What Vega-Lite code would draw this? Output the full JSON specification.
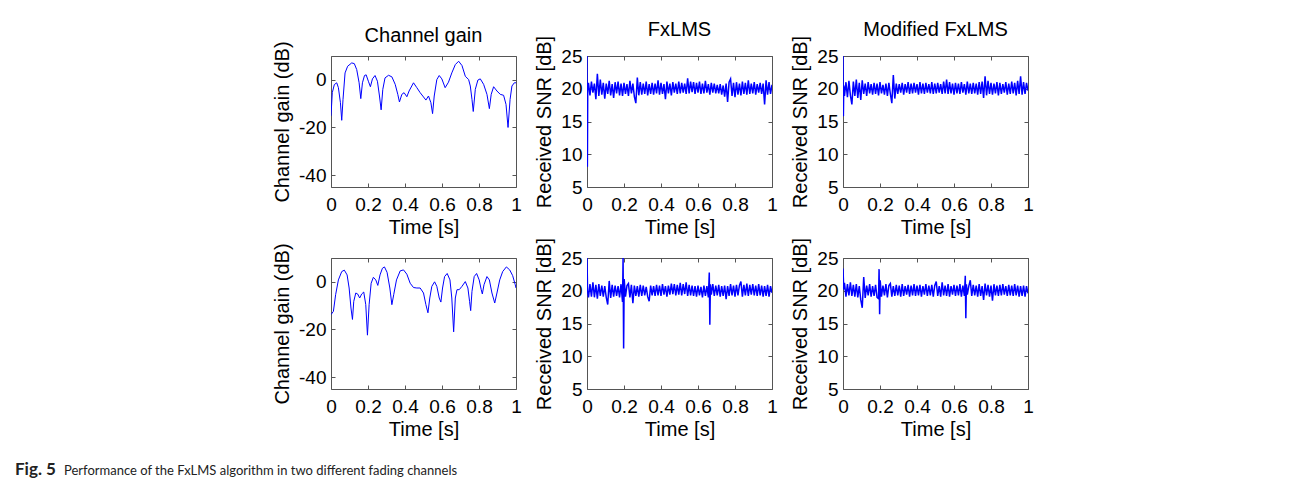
{
"$schema": "https://vega.github.io/schema/vega-lite/v6.json",
"padding": {"left": 15, "top": 19, "right": 5, "bottom": 2},
"background": "white",
"bounds": "flush",
"title": {"text": "Fig. 5", "orient": "bottom", "anchor": "start", "frame": "group", "dx": -316, "dy": -3, "offset": 0, "baseline": "alphabetic", "font": "Lato", "fontSize": 17, "fontWeight": "bold", "color": "#222"},
"datasets": {
"g1": [{"t":0,"v":-15.1},{"t":0.007,"v":-5.4},{"t":0.018,"v":-2},{"t":0.031,"v":-1.25},{"t":0.04,"v":-3.3},{"t":0.051,"v":-9.6},{"t":0.058,"v":-17},{"t":0.065,"v":-8.2},{"t":0.076,"v":2.9},{"t":0.09,"v":5.7},{"t":0.112,"v":7.1},{"t":0.126,"v":6.8},{"t":0.139,"v":4.3},{"t":0.152,"v":-1.25},{"t":0.161,"v":-7.9},{"t":0.17,"v":-1.25},{"t":0.181,"v":1.8},{"t":0.19,"v":2.1},{"t":0.202,"v":-0.6},{"t":0.213,"v":-2.9},{"t":0.224,"v":0.4},{"t":0.238,"v":1.8},{"t":0.251,"v":-0.6},{"t":0.262,"v":-6.8},{"t":0.271,"v":-12.6},{"t":0.28,"v":-4},{"t":0.292,"v":0.8},{"t":0.311,"v":1.9},{"t":0.329,"v":1.25},{"t":0.347,"v":-1.9},{"t":0.361,"v":-6.1},{"t":0.37,"v":-9.3},{"t":0.383,"v":-6.1},{"t":0.395,"v":-5.4},{"t":0.41,"v":-7.1},{"t":0.422,"v":-4.7},{"t":0.446,"v":-1.25},{"t":0.464,"v":-3.3},{"t":0.482,"v":-5.4},{"t":0.5,"v":-7.2},{"t":0.513,"v":-8.5},{"t":0.527,"v":-6.8},{"t":0.54,"v":-9.6},{"t":0.549,"v":-14.2},{"t":0.558,"v":-6.8},{"t":0.572,"v":0.1},{"t":0.585,"v":1.8},{"t":0.599,"v":0.4},{"t":0.617,"v":-3.3},{"t":0.635,"v":-1},{"t":0.653,"v":2.9},{"t":0.672,"v":6.4},{"t":0.69,"v":7.8},{"t":0.708,"v":6},{"t":0.726,"v":1.5},{"t":0.744,"v":0.1},{"t":0.753,"v":-2.6},{"t":0.762,"v":-8.2},{"t":0.769,"v":-13.3},{"t":0.78,"v":-4},{"t":0.794,"v":-0.1},{"t":0.807,"v":0.4},{"t":0.825,"v":-1.9},{"t":0.843,"v":-6.1},{"t":0.856,"v":-12.1},{"t":0.866,"v":-6.1},{"t":0.879,"v":-2.9},{"t":0.897,"v":-4.7},{"t":0.915,"v":-6.1},{"t":0.933,"v":-6.5},{"t":0.946,"v":-10.3},{"t":0.957,"v":-20},{"t":0.968,"v":-8.2},{"t":0.978,"v":-2.6},{"t":0.991,"v":-1.25},{"t":1,"v":-1.25}],
"g2": [{"t":0,"v":-13.75},{"t":0.013,"v":-12.4},{"t":0.025,"v":-5.4},{"t":0.04,"v":0.8},{"t":0.058,"v":4.3},{"t":0.072,"v":4.9},{"t":0.087,"v":2.9},{"t":0.098,"v":-2.6},{"t":0.108,"v":-11},{"t":0.116,"v":-15.8},{"t":0.123,"v":-8.2},{"t":0.134,"v":-4.7},{"t":0.144,"v":-5.1},{"t":0.155,"v":-6.8},{"t":0.166,"v":-5.1},{"t":0.177,"v":-4.3},{"t":0.188,"v":-9.6},{"t":0.197,"v":-22.4},{"t":0.206,"v":-9.6},{"t":0.217,"v":-0.6},{"t":0.229,"v":1.9},{"t":0.242,"v":0.8},{"t":0.253,"v":-1.5},{"t":0.265,"v":2.9},{"t":0.278,"v":5.7},{"t":0.289,"v":6.25},{"t":0.303,"v":4},{"t":0.318,"v":-2.6},{"t":0.329,"v":-9.6},{"t":0.339,"v":-5.4},{"t":0.354,"v":0.8},{"t":0.374,"v":4.6},{"t":0.392,"v":5},{"t":0.41,"v":3.2},{"t":0.428,"v":-0.6},{"t":0.446,"v":-2.4},{"t":0.464,"v":-2.6},{"t":0.482,"v":-2.6},{"t":0.5,"v":-4.7},{"t":0.513,"v":-9.6},{"t":0.524,"v":-13},{"t":0.534,"v":-6.8},{"t":0.545,"v":-1.9},{"t":0.56,"v":0},{"t":0.572,"v":-1.9},{"t":0.585,"v":-6.8},{"t":0.594,"v":-8.5},{"t":0.603,"v":-2.6},{"t":0.614,"v":2.2},{"t":0.628,"v":3.5},{"t":0.643,"v":0.8},{"t":0.653,"v":-6.8},{"t":0.663,"v":-21},{"t":0.672,"v":-6.8},{"t":0.681,"v":-3.3},{"t":0.693,"v":-3.3},{"t":0.708,"v":-1.9},{"t":0.726,"v":0.1},{"t":0.74,"v":-2.6},{"t":0.749,"v":-8.2},{"t":0.755,"v":-12.1},{"t":0.762,"v":-4},{"t":0.774,"v":2.2},{"t":0.787,"v":3.5},{"t":0.801,"v":0.8},{"t":0.812,"v":-3.3},{"t":0.818,"v":-5.1},{"t":0.827,"v":-1.25},{"t":0.843,"v":2.2},{"t":0.856,"v":0.8},{"t":0.87,"v":-4.7},{"t":0.885,"v":-8.9},{"t":0.897,"v":-4.7},{"t":0.912,"v":0.8},{"t":0.928,"v":4.3},{"t":0.948,"v":6.25},{"t":0.966,"v":5},{"t":0.982,"v":2.6},{"t":0.996,"v":-1.25},{"t":1,"v":-2.6}],
"f1": [{"t":0,"v":25},{"t":0.002,"v":8.1},{"t":0.004,"v":20.3},{"t":0.008,"v":20.9},{"t":0.016,"v":19.0},{"t":0.024,"v":21.1},{"t":0.032,"v":19.4},{"t":0.04,"v":20.8},{"t":0.048,"v":18.4},{"t":0.056,"v":22.3},{"t":0.064,"v":18.9},{"t":0.072,"v":21.4},{"t":0.08,"v":19.1},{"t":0.088,"v":20.9},{"t":0.096,"v":18.5},{"t":0.104,"v":20.8},{"t":0.112,"v":19.2},{"t":0.12,"v":21.2},{"t":0.128,"v":19.0},{"t":0.136,"v":20.7},{"t":0.144,"v":18.6},{"t":0.152,"v":21.0},{"t":0.16,"v":19.3},{"t":0.168,"v":21.1},{"t":0.176,"v":19.0},{"t":0.184,"v":20.8},{"t":0.192,"v":18.9},{"t":0.2,"v":20.9},{"t":0.208,"v":19.2},{"t":0.216,"v":20.7},{"t":0.224,"v":18.9},{"t":0.232,"v":21.2},{"t":0.24,"v":19.3},{"t":0.248,"v":20.8},{"t":0.256,"v":18.8},{"t":0.264,"v":17.8},{"t":0.272,"v":21.7},{"t":0.28,"v":19.0},{"t":0.288,"v":21.0},{"t":0.296,"v":19.1},{"t":0.304,"v":20.8},{"t":0.312,"v":19.2},{"t":0.32,"v":21.1},{"t":0.328,"v":19.0},{"t":0.336,"v":20.7},{"t":0.344,"v":19.2},{"t":0.352,"v":20.9},{"t":0.36,"v":19.1},{"t":0.368,"v":20.8},{"t":0.376,"v":19.3},{"t":0.384,"v":21.3},{"t":0.392,"v":19.1},{"t":0.4,"v":20.9},{"t":0.408,"v":19.2},{"t":0.416,"v":20.7},{"t":0.424,"v":18.4},{"t":0.432,"v":21.1},{"t":0.44,"v":19.3},{"t":0.448,"v":20.8},{"t":0.456,"v":19.0},{"t":0.464,"v":21.0},{"t":0.472,"v":19.4},{"t":0.48,"v":20.8},{"t":0.488,"v":19.2},{"t":0.496,"v":21.1},{"t":0.504,"v":19.3},{"t":0.512,"v":20.9},{"t":0.52,"v":19.4},{"t":0.528,"v":20.8},{"t":0.536,"v":19.2},{"t":0.544,"v":21.6},{"t":0.552,"v":19.3},{"t":0.56,"v":21.1},{"t":0.568,"v":19.5},{"t":0.576,"v":21.0},{"t":0.584,"v":19.2},{"t":0.592,"v":20.9},{"t":0.6,"v":19.4},{"t":0.608,"v":21.1},{"t":0.616,"v":19.2},{"t":0.624,"v":20.8},{"t":0.632,"v":19.3},{"t":0.64,"v":21.2},{"t":0.648,"v":19.4},{"t":0.656,"v":20.7},{"t":0.664,"v":19.1},{"t":0.672,"v":20.9},{"t":0.68,"v":19.4},{"t":0.688,"v":20.8},{"t":0.696,"v":19.3},{"t":0.704,"v":20.6},{"t":0.712,"v":19.3},{"t":0.72,"v":20.7},{"t":0.728,"v":19.1},{"t":0.736,"v":20.5},{"t":0.744,"v":18.8},{"t":0.752,"v":20.8},{"t":0.76,"v":18.0},{"t":0.768,"v":21.0},{"t":0.776,"v":21.5},{"t":0.784,"v":18.9},{"t":0.792,"v":20.9},{"t":0.8,"v":18.7},{"t":0.808,"v":21.0},{"t":0.816,"v":19.1},{"t":0.824,"v":20.8},{"t":0.832,"v":19.0},{"t":0.84,"v":21.1},{"t":0.848,"v":19.2},{"t":0.856,"v":20.9},{"t":0.864,"v":19.1},{"t":0.872,"v":21.3},{"t":0.88,"v":19.2},{"t":0.888,"v":20.8},{"t":0.896,"v":19.3},{"t":0.904,"v":21.0},{"t":0.912,"v":19.1},{"t":0.92,"v":20.7},{"t":0.928,"v":19.4},{"t":0.936,"v":20.9},{"t":0.944,"v":19.2},{"t":0.952,"v":20.8},{"t":0.96,"v":17.6},{"t":0.968,"v":21.3},{"t":0.976,"v":19.1},{"t":0.984,"v":21.0},{"t":0.992,"v":19.2},{"t":1,"v":20.6}],
"m1": [{"t":0,"v":25},{"t":0.002,"v":15.8},{"t":0.004,"v":20.5},{"t":0.008,"v":18.9},{"t":0.016,"v":21.0},{"t":0.024,"v":18.7},{"t":0.032,"v":21.2},{"t":0.04,"v":19.0},{"t":0.048,"v":17.6},{"t":0.056,"v":21.1},{"t":0.064,"v":18.9},{"t":0.072,"v":21.4},{"t":0.08,"v":18.6},{"t":0.088,"v":20.9},{"t":0.096,"v":18.3},{"t":0.104,"v":21.3},{"t":0.112,"v":19.2},{"t":0.12,"v":20.8},{"t":0.128,"v":18.9},{"t":0.136,"v":21.0},{"t":0.144,"v":19.3},{"t":0.152,"v":20.7},{"t":0.16,"v":19.1},{"t":0.168,"v":20.9},{"t":0.176,"v":19.2},{"t":0.184,"v":20.8},{"t":0.192,"v":19.0},{"t":0.2,"v":21.0},{"t":0.208,"v":19.3},{"t":0.216,"v":20.6},{"t":0.224,"v":19.1},{"t":0.232,"v":20.8},{"t":0.24,"v":18.9},{"t":0.248,"v":20.9},{"t":0.256,"v":19.2},{"t":0.264,"v":17.8},{"t":0.272,"v":22.1},{"t":0.28,"v":18.5},{"t":0.288,"v":20.8},{"t":0.296,"v":19.2},{"t":0.304,"v":20.7},{"t":0.312,"v":19.4},{"t":0.32,"v":20.9},{"t":0.328,"v":19.1},{"t":0.336,"v":20.7},{"t":0.344,"v":19.4},{"t":0.352,"v":21.0},{"t":0.36,"v":19.2},{"t":0.368,"v":20.8},{"t":0.376,"v":19.3},{"t":0.384,"v":20.9},{"t":0.392,"v":19.4},{"t":0.4,"v":20.7},{"t":0.408,"v":19.1},{"t":0.416,"v":21.0},{"t":0.424,"v":19.3},{"t":0.432,"v":20.8},{"t":0.44,"v":19.2},{"t":0.448,"v":20.9},{"t":0.456,"v":19.4},{"t":0.464,"v":20.7},{"t":0.472,"v":19.3},{"t":0.48,"v":21.0},{"t":0.488,"v":19.2},{"t":0.496,"v":20.8},{"t":0.504,"v":19.3},{"t":0.512,"v":20.9},{"t":0.52,"v":19.4},{"t":0.528,"v":20.7},{"t":0.536,"v":19.2},{"t":0.544,"v":21.1},{"t":0.552,"v":19.3},{"t":0.56,"v":21.4},{"t":0.568,"v":19.2},{"t":0.576,"v":21.0},{"t":0.584,"v":19.3},{"t":0.592,"v":20.8},{"t":0.6,"v":19.1},{"t":0.608,"v":20.9},{"t":0.616,"v":19.3},{"t":0.624,"v":20.8},{"t":0.632,"v":19.2},{"t":0.64,"v":21.0},{"t":0.648,"v":19.4},{"t":0.656,"v":20.7},{"t":0.664,"v":19.1},{"t":0.672,"v":21.1},{"t":0.68,"v":19.3},{"t":0.688,"v":20.8},{"t":0.696,"v":19.2},{"t":0.704,"v":20.9},{"t":0.712,"v":19.3},{"t":0.72,"v":20.8},{"t":0.728,"v":19.1},{"t":0.736,"v":21.0},{"t":0.744,"v":19.2},{"t":0.752,"v":21.1},{"t":0.76,"v":18.6},{"t":0.768,"v":21.9},{"t":0.776,"v":19.0},{"t":0.784,"v":21.2},{"t":0.792,"v":19.2},{"t":0.8,"v":20.9},{"t":0.808,"v":19.1},{"t":0.816,"v":20.8},{"t":0.824,"v":19.3},{"t":0.832,"v":21.0},{"t":0.84,"v":19.0},{"t":0.848,"v":20.9},{"t":0.856,"v":19.2},{"t":0.864,"v":20.7},{"t":0.872,"v":19.4},{"t":0.88,"v":21.0},{"t":0.888,"v":19.1},{"t":0.896,"v":20.8},{"t":0.904,"v":19.2},{"t":0.912,"v":21.1},{"t":0.92,"v":19.3},{"t":0.928,"v":20.9},{"t":0.936,"v":19.0},{"t":0.944,"v":21.2},{"t":0.952,"v":19.2},{"t":0.96,"v":21.9},{"t":0.968,"v":19.1},{"t":0.976,"v":21.0},{"t":0.984,"v":19.2},{"t":0.992,"v":20.9},{"t":1,"v":19.7}],
"f2": [{"t":0,"v":25},{"t":0.003,"v":20.0},{"t":0.008,"v":19.0},{"t":0.016,"v":21.0},{"t":0.024,"v":19.1},{"t":0.032,"v":21.3},{"t":0.04,"v":19.0},{"t":0.048,"v":20.9},{"t":0.056,"v":18.8},{"t":0.064,"v":21.0},{"t":0.072,"v":19.2},{"t":0.08,"v":20.8},{"t":0.088,"v":19.1},{"t":0.096,"v":20.7},{"t":0.104,"v":19.0},{"t":0.112,"v":17.9},{"t":0.12,"v":21.5},{"t":0.128,"v":18.9},{"t":0.136,"v":20.9},{"t":0.144,"v":19.1},{"t":0.152,"v":20.8},{"t":0.16,"v":19.2},{"t":0.168,"v":20.7},{"t":0.176,"v":19.0},{"t":0.184,"v":21.0},{"t":0.192,"v":18.3},{"t":0.195,"v":25},{"t":0.198,"v":11.2},{"t":0.201,"v":21.8},{"t":0.208,"v":19.1},{"t":0.216,"v":20.8},{"t":0.224,"v":21.1},{"t":0.232,"v":19.0},{"t":0.24,"v":20.9},{"t":0.248,"v":18.1},{"t":0.256,"v":20.8},{"t":0.264,"v":19.2},{"t":0.272,"v":20.7},{"t":0.28,"v":19.1},{"t":0.288,"v":20.9},{"t":0.296,"v":19.2},{"t":0.304,"v":20.8},{"t":0.312,"v":19.3},{"t":0.32,"v":20.6},{"t":0.328,"v":19.1},{"t":0.336,"v":18.4},{"t":0.344,"v":20.8},{"t":0.352,"v":19.3},{"t":0.36,"v":20.7},{"t":0.368,"v":19.2},{"t":0.376,"v":20.9},{"t":0.384,"v":19.3},{"t":0.392,"v":20.8},{"t":0.4,"v":19.2},{"t":0.408,"v":21.0},{"t":0.416,"v":19.4},{"t":0.424,"v":20.7},{"t":0.432,"v":19.1},{"t":0.44,"v":20.8},{"t":0.448,"v":19.4},{"t":0.456,"v":21.1},{"t":0.464,"v":19.5},{"t":0.472,"v":21.0},{"t":0.48,"v":19.3},{"t":0.488,"v":20.9},{"t":0.496,"v":19.4},{"t":0.504,"v":21.2},{"t":0.512,"v":19.3},{"t":0.52,"v":21.0},{"t":0.528,"v":19.5},{"t":0.536,"v":21.3},{"t":0.544,"v":19.2},{"t":0.552,"v":20.9},{"t":0.56,"v":19.3},{"t":0.568,"v":20.8},{"t":0.576,"v":19.2},{"t":0.584,"v":20.7},{"t":0.592,"v":19.1},{"t":0.6,"v":20.8},{"t":0.608,"v":19.3},{"t":0.616,"v":20.6},{"t":0.624,"v":19.0},{"t":0.632,"v":20.8},{"t":0.64,"v":19.2},{"t":0.648,"v":20.7},{"t":0.656,"v":19.0},{"t":0.661,"v":22.8},{"t":0.664,"v":14.8},{"t":0.667,"v":21.0},{"t":0.672,"v":19.4},{"t":0.68,"v":21.0},{"t":0.688,"v":19.2},{"t":0.696,"v":20.8},{"t":0.704,"v":19.3},{"t":0.712,"v":20.9},{"t":0.72,"v":19.1},{"t":0.728,"v":20.7},{"t":0.736,"v":19.2},{"t":0.744,"v":20.8},{"t":0.752,"v":18.7},{"t":0.76,"v":20.7},{"t":0.768,"v":19.2},{"t":0.776,"v":21.0},{"t":0.784,"v":19.3},{"t":0.792,"v":20.8},{"t":0.8,"v":19.1},{"t":0.808,"v":20.9},{"t":0.816,"v":19.3},{"t":0.824,"v":20.8},{"t":0.832,"v":21.4},{"t":0.84,"v":19.1},{"t":0.848,"v":20.9},{"t":0.856,"v":19.3},{"t":0.864,"v":21.1},{"t":0.872,"v":19.2},{"t":0.88,"v":20.9},{"t":0.888,"v":19.4},{"t":0.896,"v":21.0},{"t":0.904,"v":19.3},{"t":0.912,"v":20.8},{"t":0.92,"v":19.2},{"t":0.928,"v":21.0},{"t":0.936,"v":19.3},{"t":0.944,"v":20.8},{"t":0.952,"v":19.1},{"t":0.96,"v":20.7},{"t":0.968,"v":19.2},{"t":0.976,"v":20.9},{"t":0.984,"v":19.1},{"t":0.992,"v":20.7},{"t":1,"v":19.7}],
"m2": [{"t":0,"v":23.4},{"t":0.004,"v":20.2},{"t":0.008,"v":21.2},{"t":0.016,"v":19.1},{"t":0.024,"v":21.0},{"t":0.032,"v":19.3},{"t":0.04,"v":21.3},{"t":0.048,"v":19.2},{"t":0.056,"v":20.9},{"t":0.064,"v":19.1},{"t":0.072,"v":21.0},{"t":0.08,"v":19.0},{"t":0.088,"v":20.7},{"t":0.096,"v":18.6},{"t":0.104,"v":17.4},{"t":0.112,"v":22.1},{"t":0.12,"v":18.9},{"t":0.128,"v":20.8},{"t":0.136,"v":19.3},{"t":0.144,"v":21.0},{"t":0.152,"v":19.1},{"t":0.16,"v":20.7},{"t":0.168,"v":19.2},{"t":0.176,"v":20.9},{"t":0.184,"v":19.0},{"t":0.192,"v":18.8},{"t":0.195,"v":23.3},{"t":0.198,"v":16.4},{"t":0.201,"v":21.6},{"t":0.208,"v":19.1},{"t":0.216,"v":20.8},{"t":0.224,"v":19.3},{"t":0.232,"v":21.0},{"t":0.24,"v":19.0},{"t":0.248,"v":20.8},{"t":0.256,"v":21.1},{"t":0.264,"v":19.1},{"t":0.272,"v":20.7},{"t":0.28,"v":19.2},{"t":0.288,"v":20.9},{"t":0.296,"v":19.3},{"t":0.304,"v":20.8},{"t":0.312,"v":19.1},{"t":0.32,"v":21.0},{"t":0.328,"v":19.2},{"t":0.336,"v":20.7},{"t":0.344,"v":19.4},{"t":0.352,"v":20.9},{"t":0.36,"v":19.1},{"t":0.368,"v":20.8},{"t":0.376,"v":19.3},{"t":0.384,"v":21.0},{"t":0.392,"v":19.2},{"t":0.4,"v":20.8},{"t":0.408,"v":19.3},{"t":0.416,"v":20.9},{"t":0.424,"v":19.1},{"t":0.432,"v":20.7},{"t":0.44,"v":19.4},{"t":0.448,"v":21.0},{"t":0.456,"v":19.2},{"t":0.464,"v":20.8},{"t":0.472,"v":19.3},{"t":0.48,"v":20.9},{"t":0.488,"v":19.1},{"t":0.496,"v":20.8},{"t":0.504,"v":21.4},{"t":0.512,"v":19.2},{"t":0.52,"v":20.7},{"t":0.528,"v":19.1},{"t":0.536,"v":21.3},{"t":0.544,"v":19.3},{"t":0.552,"v":20.8},{"t":0.56,"v":19.2},{"t":0.568,"v":21.0},{"t":0.576,"v":19.1},{"t":0.584,"v":20.7},{"t":0.592,"v":19.4},{"t":0.6,"v":20.9},{"t":0.608,"v":19.2},{"t":0.616,"v":20.8},{"t":0.624,"v":19.3},{"t":0.632,"v":21.0},{"t":0.64,"v":19.1},{"t":0.648,"v":20.8},{"t":0.656,"v":19.2},{"t":0.661,"v":22.3},{"t":0.664,"v":15.8},{"t":0.667,"v":21.0},{"t":0.672,"v":19.4},{"t":0.68,"v":20.7},{"t":0.688,"v":21.6},{"t":0.696,"v":19.2},{"t":0.704,"v":20.9},{"t":0.712,"v":19.3},{"t":0.72,"v":20.8},{"t":0.728,"v":19.1},{"t":0.736,"v":21.0},{"t":0.744,"v":19.2},{"t":0.752,"v":20.7},{"t":0.76,"v":18.6},{"t":0.768,"v":21.1},{"t":0.776,"v":19.3},{"t":0.784,"v":20.9},{"t":0.792,"v":19.1},{"t":0.8,"v":20.8},{"t":0.808,"v":18.5},{"t":0.816,"v":21.0},{"t":0.824,"v":19.3},{"t":0.832,"v":20.8},{"t":0.84,"v":19.2},{"t":0.848,"v":20.9},{"t":0.856,"v":19.3},{"t":0.864,"v":21.0},{"t":0.872,"v":19.4},{"t":0.88,"v":20.7},{"t":0.888,"v":19.2},{"t":0.896,"v":20.9},{"t":0.904,"v":19.3},{"t":0.912,"v":20.8},{"t":0.92,"v":19.2},{"t":0.928,"v":21.0},{"t":0.936,"v":19.3},{"t":0.944,"v":20.8},{"t":0.952,"v":19.1},{"t":0.96,"v":20.7},{"t":0.968,"v":19.2},{"t":0.976,"v":20.8},{"t":0.984,"v":19.1},{"t":0.992,"v":20.7},{"t":1,"v":19.6}]
},
"vconcat": [
{
"title": {"text": "Performance of the FxLMS algorithm in two different fading channels", "orient": "bottom", "anchor": "start", "frame": "group", "dx": -267, "offset": 35, "baseline": "alphabetic", "font": "Lato", "fontSize": 13, "fontWeight": "normal", "color": "#222"},
"columns": 3,
"spacing": {"row": 71, "column": 71},
"bounds": "flush",
"concat": [
{"width": 185, "height": 131, "data": {"name": "g1"}, "title": {"text": "Channel gain", "dy": 15},
 "layer": [
  {"mark": {"type": "line", "color": "#0000ff", "strokeWidth": 1, "clip": true},
   "encoding": {
    "x": {"field": "t", "type": "quantitative", "scale": {"domain": [0, 1], "nice": false}, "axis": {"title": "Time [s]", "values": [0, 0.2, 0.4, 0.6, 0.8, 1], "format": "~g"}},
    "y": {"field": "v", "type": "quantitative", "scale": {"domain": [-45, 10], "nice": false, "zero": false}, "axis": {"title": "Channel gain (dB)", "values": [-40, -20, 0], "labelExpr": "datum.value < 0 ? '-' + abs(datum.value) : '' + datum.value"}}}},
  {"mark": {"type": "line", "opacity": 0},
   "encoding": {
    "x": {"field": "t", "type": "quantitative", "axis": {"orient": "top", "labels": false, "title": null, "values": [0, 0.2, 0.4, 0.6, 0.8, 1]}},
    "y": {"field": "v", "type": "quantitative", "axis": {"orient": "right", "labels": false, "title": null, "values": [-40, -20, 0]}}}}
 ],
 "resolve": {"axis": {"x": "independent", "y": "independent"}}},
{"width": 185, "height": 131, "data": {"name": "f1"}, "title": {"text": "FxLMS", "dy": 15},
 "layer": [
  {"mark": {"type": "line", "color": "#0000ff", "strokeWidth": 1.5, "clip": true},
   "encoding": {
    "x": {"field": "t", "type": "quantitative", "scale": {"domain": [0, 1], "nice": false}, "axis": {"title": "Time [s]", "values": [0, 0.2, 0.4, 0.6, 0.8, 1], "format": "~g"}},
    "y": {"field": "v", "type": "quantitative", "scale": {"domain": [5, 25], "nice": false, "zero": false}, "axis": {"title": "Received SNR [dB]", "values": [5, 10, 15, 20, 25]}}}},
  {"mark": {"type": "line", "opacity": 0},
   "encoding": {
    "x": {"field": "t", "type": "quantitative", "axis": {"orient": "top", "labels": false, "title": null, "values": [0, 0.2, 0.4, 0.6, 0.8, 1]}},
    "y": {"field": "v", "type": "quantitative", "axis": {"orient": "right", "labels": false, "title": null, "values": [5, 10, 15, 20, 25]}}}}
 ],
 "resolve": {"axis": {"x": "independent", "y": "independent"}}},
{"width": 185, "height": 131, "data": {"name": "m1"}, "title": {"text": "Modified FxLMS", "dy": 15},
 "layer": [
  {"mark": {"type": "line", "color": "#0000ff", "strokeWidth": 1.5, "clip": true},
   "encoding": {
    "x": {"field": "t", "type": "quantitative", "scale": {"domain": [0, 1], "nice": false}, "axis": {"title": "Time [s]", "values": [0, 0.2, 0.4, 0.6, 0.8, 1], "format": "~g"}},
    "y": {"field": "v", "type": "quantitative", "scale": {"domain": [5, 25], "nice": false, "zero": false}, "axis": {"title": "Received SNR [dB]", "values": [5, 10, 15, 20, 25]}}}},
  {"mark": {"type": "line", "opacity": 0},
   "encoding": {
    "x": {"field": "t", "type": "quantitative", "axis": {"orient": "top", "labels": false, "title": null, "values": [0, 0.2, 0.4, 0.6, 0.8, 1]}},
    "y": {"field": "v", "type": "quantitative", "axis": {"orient": "right", "labels": false, "title": null, "values": [5, 10, 15, 20, 25]}}}}
 ],
 "resolve": {"axis": {"x": "independent", "y": "independent"}}},
{"width": 185, "height": 131, "data": {"name": "g2"},
 "layer": [
  {"mark": {"type": "line", "color": "#0000ff", "strokeWidth": 1, "clip": true},
   "encoding": {
    "x": {"field": "t", "type": "quantitative", "scale": {"domain": [0, 1], "nice": false}, "axis": {"title": "Time [s]", "values": [0, 0.2, 0.4, 0.6, 0.8, 1], "format": "~g"}},
    "y": {"field": "v", "type": "quantitative", "scale": {"domain": [-45, 10], "nice": false, "zero": false}, "axis": {"title": "Channel gain (dB)", "values": [-40, -20, 0], "labelExpr": "datum.value < 0 ? '-' + abs(datum.value) : '' + datum.value"}}}},
  {"mark": {"type": "line", "opacity": 0},
   "encoding": {
    "x": {"field": "t", "type": "quantitative", "axis": {"orient": "top", "labels": false, "title": null, "values": [0, 0.2, 0.4, 0.6, 0.8, 1]}},
    "y": {"field": "v", "type": "quantitative", "axis": {"orient": "right", "labels": false, "title": null, "values": [-40, -20, 0]}}}}
 ],
 "resolve": {"axis": {"x": "independent", "y": "independent"}}},
{"width": 185, "height": 131, "data": {"name": "f2"},
 "layer": [
  {"mark": {"type": "line", "color": "#0000ff", "strokeWidth": 1.5, "clip": true},
   "encoding": {
    "x": {"field": "t", "type": "quantitative", "scale": {"domain": [0, 1], "nice": false}, "axis": {"title": "Time [s]", "values": [0, 0.2, 0.4, 0.6, 0.8, 1], "format": "~g"}},
    "y": {"field": "v", "type": "quantitative", "scale": {"domain": [5, 25], "nice": false, "zero": false}, "axis": {"title": "Received SNR [dB]", "values": [5, 10, 15, 20, 25]}}}},
  {"mark": {"type": "line", "opacity": 0},
   "encoding": {
    "x": {"field": "t", "type": "quantitative", "axis": {"orient": "top", "labels": false, "title": null, "values": [0, 0.2, 0.4, 0.6, 0.8, 1]}},
    "y": {"field": "v", "type": "quantitative", "axis": {"orient": "right", "labels": false, "title": null, "values": [5, 10, 15, 20, 25]}}}}
 ],
 "resolve": {"axis": {"x": "independent", "y": "independent"}}},
{"width": 185, "height": 131, "data": {"name": "m2"},
 "layer": [
  {"mark": {"type": "line", "color": "#0000ff", "strokeWidth": 1.5, "clip": true},
   "encoding": {
    "x": {"field": "t", "type": "quantitative", "scale": {"domain": [0, 1], "nice": false}, "axis": {"title": "Time [s]", "values": [0, 0.2, 0.4, 0.6, 0.8, 1], "format": "~g"}},
    "y": {"field": "v", "type": "quantitative", "scale": {"domain": [5, 25], "nice": false, "zero": false}, "axis": {"title": "Received SNR [dB]", "values": [5, 10, 15, 20, 25]}}}},
  {"mark": {"type": "line", "opacity": 0},
   "encoding": {
    "x": {"field": "t", "type": "quantitative", "axis": {"orient": "top", "labels": false, "title": null, "values": [0, 0.2, 0.4, 0.6, 0.8, 1]}},
    "y": {"field": "v", "type": "quantitative", "axis": {"orient": "right", "labels": false, "title": null, "values": [5, 10, 15, 20, 25]}}}}
 ],
 "resolve": {"axis": {"x": "independent", "y": "independent"}}}
]
}
],
"config": {
 "view": {"stroke": "#555", "strokeWidth": 1},
 "axis": {"grid": false, "domain": false, "tickSize": -4, "tickColor": "#555", "labelFont": "Liberation Sans", "labelFontSize": 19, "labelColor": "#000", "labelFlush": false, "labelOverlap": false, "labelPadding": 12, "titleFont": "Liberation Sans", "titleFontSize": 20, "titleFontWeight": "normal", "titleColor": "#000", "titlePadding": 3},
 "axisY": {"labelPadding": 9, "titlePadding": 6},
 "title": {"font": "Liberation Sans", "fontSize": 20, "fontWeight": "normal", "color": "#000", "offset": 10}
}
}
